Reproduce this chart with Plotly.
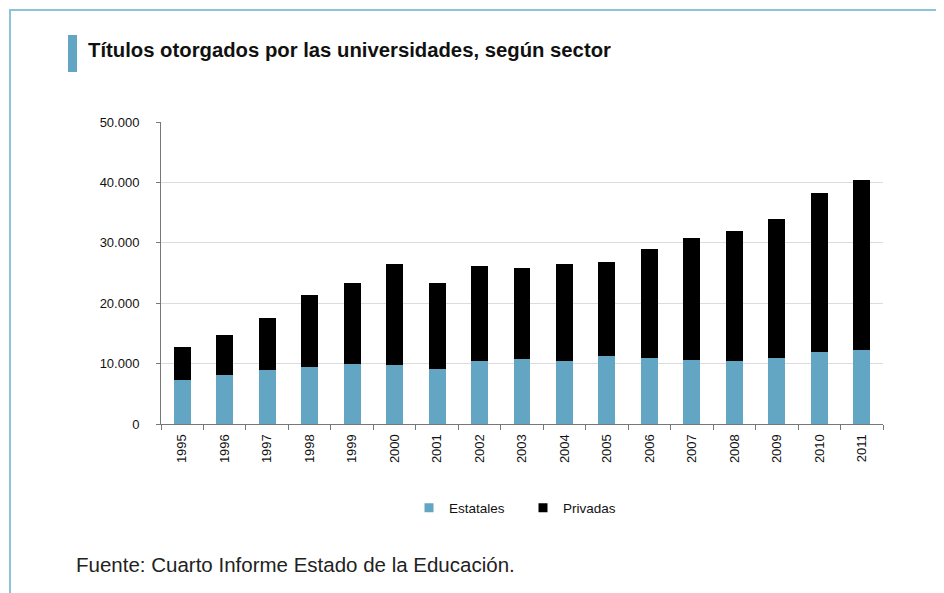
import plotly.graph_objects as go

years = ["1995", "1996", "1997", "1998", "1999", "2000", "2001", "2002", "2003",
         "2004", "2005", "2006", "2007", "2008", "2009", "2010", "2011"]
estatales = [7300, 8100, 9000, 9400, 9900, 9700, 9150, 10400, 10700,
             10400, 11200, 11000, 10600, 10400, 11000, 12000, 12200]
totales = [12800, 14800, 17500, 21300, 23400, 26500, 23400, 26100, 25800,
           26500, 26850, 29050, 30800, 31900, 33900, 38200, 40400]
privadas = [t - e for t, e in zip(totales, estatales)]

y_ticks = [0, 10000, 20000, 30000, 40000, 50000]

TITLE = "Títulos otorgados por las universidades, según sector"
SOURCE = "Fuente: Cuarto Informe Estado de la Educación."

# page is offset by the 8px body margin; work in reference pixel coords
OFF = 8
W, H = 944, 593
PL, PR, PT, PB = 161, 883, 122, 424  # plot area in reference pixels
L, R, T, B = PL - OFF, W - (PR - OFF), PT - OFF, H - (PB - OFF)
PW, PH = PR - PL, PB - PT


def px(x):
    return (x - PL) / PW


def py(y):
    return (PB - y) / PH


BLUE = "#62a6c4"
font_main = "Liberation Sans, Arial, sans-serif"

fig = go.Figure()
fig.add_trace(go.Bar(x=years, y=estatales, name="Estatales", showlegend=False,
                     marker=dict(color=BLUE, line=dict(width=0))))
fig.add_trace(go.Bar(x=years, y=privadas, name="Privadas", showlegend=False,
                     marker=dict(color="#000000", line=dict(width=0))))
# legend entries (small square swatches)
fig.add_trace(go.Scatter(x=[None], y=[None], mode="markers", name="Estatales",
                         marker=dict(symbol="square", size=9, color=BLUE)))
fig.add_trace(go.Scatter(x=[None], y=[None], mode="markers", name="Privadas",
                         marker=dict(symbol="square", size=9, color="#000000")))

fig.update_layout(
    barmode="stack",
    bargap=0.6,
    width=W, height=H,
    margin=dict(l=L, r=R, t=T, b=B, pad=0),
    paper_bgcolor="white",
    plot_bgcolor="white",
    separators=",.",
    showlegend=True,
    legend=dict(orientation="h", traceorder="normal", x=px(523), xanchor="center",
                y=py(508), yanchor="middle", entrywidth=69, entrywidthmode="pixels",
                font=dict(family=font_main, size=13.5, color="#111"),
                itemwidth=30, bgcolor="rgba(0,0,0,0)"),
    xaxis=dict(type="category", tickangle=-90, ticks="outside", tickson="boundaries",
               ticklen=5, tickcolor="#777", showline=True, linecolor="#777", linewidth=1,
               showgrid=False, ticklabelstandoff=4,
               tickfont=dict(family=font_main, size=13, color="#111")),
    yaxis=dict(range=[0, 50000], tickvals=y_ticks, tickformat=",d", ticks="outside",
               ticklen=4, tickcolor="#777", showline=True, linecolor="#777", linewidth=1,
               showgrid=True, gridcolor="#dcdcdc", gridwidth=1, zeroline=False,
               ticklabelstandoff=14,
               tickfont=dict(family=font_main, size=13, color="#111")),
    shapes=[
        dict(type="rect", xref="paper", yref="paper", x0=px(10), x1=px(1100),
             y0=py(800), y1=py(10), line=dict(color="#8cc3da", width=2),
             fillcolor="rgba(0,0,0,0)", layer="below"),
        dict(type="rect", xref="paper", yref="paper", x0=px(68), x1=px(77),
             y0=py(72), y1=py(35), line=dict(width=0), fillcolor=BLUE),
    ],
    annotations=[
        dict(text="<b>" + TITLE + "</b>", xref="paper", yref="paper", x=px(86), y=py(50),
             xanchor="left", yanchor="middle", showarrow=False,
             font=dict(family=font_main, size=20.3, color="#111")),
        dict(text=SOURCE, xref="paper", yref="paper", x=px(74), y=py(564),
             xanchor="left", yanchor="middle", showarrow=False,
             font=dict(family=font_main, size=20.5, color="#222")),
    ],
)

fig.write_html("out.html")
